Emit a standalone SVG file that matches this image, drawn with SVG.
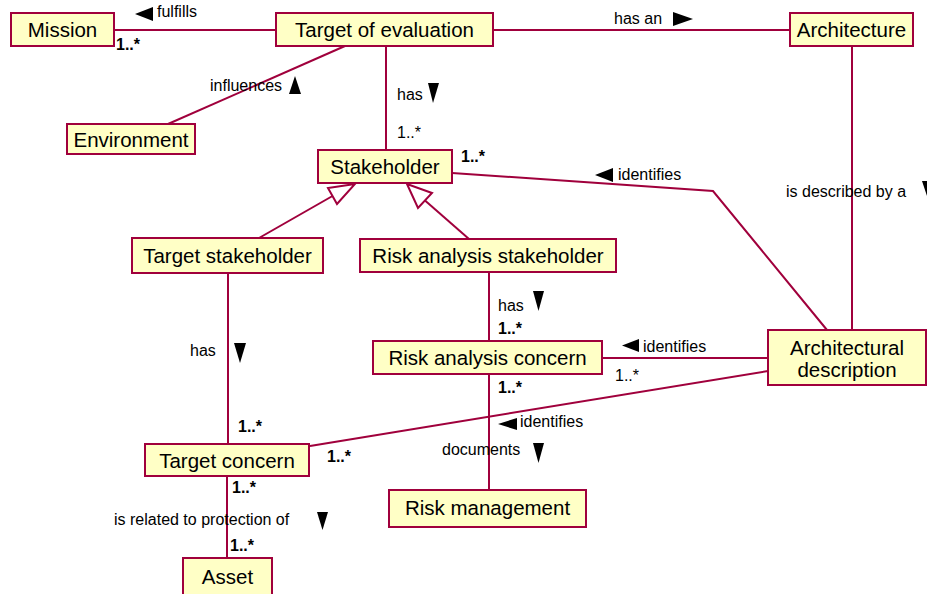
<svg xmlns="http://www.w3.org/2000/svg" width="927" height="594" viewBox="0 0 927 594">
<style>
.box{fill:#ffffc6;stroke:#a0003c;stroke-width:2}
.bl{font-family:"Liberation Sans",Arial,sans-serif;font-size:20.5px;fill:#000;text-anchor:middle}
.ln{fill:none;stroke:#a0003c;stroke-width:2}
.lb{font-family:"Liberation Sans",Arial,sans-serif;font-size:16px;fill:#000}
.m{font-family:"Liberation Sans",Arial,sans-serif;font-size:16px;fill:#000}
.mb{font-family:"Liberation Sans",Arial,sans-serif;font-size:16px;fill:#000;font-weight:bold}
.ar{fill:#000}
.gen{fill:#fff;stroke:#a0003c;stroke-width:2}
</style>
<rect width="927" height="594" fill="#fff"/>
<g id="connectors">
<line class="ln" x1="114" y1="30" x2="276" y2="30"/>
<line class="ln" x1="493" y1="30" x2="790" y2="30"/>
<line class="ln" x1="345" y1="46" x2="168" y2="124"/>
<line class="ln" x1="386" y1="46" x2="386" y2="150"/>
<polyline class="ln" points="452,173 713,191 827,330"/>
<line class="ln" x1="852" y1="47" x2="852" y2="330"/>
<line class="ln" x1="259" y1="238" x2="332.5" y2="196"/>
<polygon class="gen" points="355,184 328,188 337,204"/>
<line class="ln" x1="469" y1="239" x2="425" y2="200.5"/>
<polygon class="gen" points="407,184 418,208 432,193"/>
<line class="ln" x1="228" y1="273" x2="228" y2="444"/>
<line class="ln" x1="489" y1="272" x2="489" y2="341"/>
<line class="ln" x1="489" y1="374" x2="489" y2="490"/>
<line class="ln" x1="602" y1="358" x2="768" y2="358"/>
<line class="ln" x1="310" y1="446" x2="768" y2="371"/>
<line class="ln" x1="227" y1="476" x2="227" y2="558"/>
<polygon class="ar" points="135,14 153,7 153,21"/>
<text class="lb" x="157" y="17">fulfills</text>
<text class="mb" x="116" y="50">1..*</text>
<text class="lb" x="210" y="91">influences</text>
<polygon class="ar" points="295,76 289,94 301,94"/>
<text class="lb" x="397" y="100">has</text>
<polygon class="ar" points="428,83 439,83 433,103"/>
<text class="m" x="397" y="138">1..*</text>
<text class="mb" x="461" y="162">1..*</text>
<text class="lb" x="614" y="24">has an</text>
<polygon class="ar" points="673,12 693,19 673,26"/>
<polygon class="ar" points="595,175 613,168 613,182"/>
<text class="lb" x="618" y="180">identifies</text>
<text class="lb" x="786" y="197">is described by a</text>
<polygon class="ar" points="922,181 934,181 928,199"/>
<text class="lb" x="498" y="311">has</text>
<polygon class="ar" points="533,291 544,291 538.5,311"/>
<text class="mb" x="498" y="334">1..*</text>
<polygon class="ar" points="622,345.5 639,339 639,352"/>
<text class="lb" x="643" y="352">identifies</text>
<text class="m" x="615" y="381">1..*</text>
<text class="mb" x="498" y="393">1..*</text>
<polygon class="ar" points="498,424 517,418 517,430"/>
<text class="lb" x="520" y="427">identifies</text>
<text class="lb" x="442" y="455">documents</text>
<polygon class="ar" points="533,443 544,443 538.5,463"/>
<text class="lb" x="190" y="356">has</text>
<polygon class="ar" points="234,343 246,343 240,363"/>
<text class="mb" x="238" y="432">1..*</text>
<text class="mb" x="327" y="462">1..*</text>
<text class="mb" x="232" y="493">1..*</text>
<text class="lb" x="114" y="525">is related to protection of</text>
<polygon class="ar" points="317,512 328,512 322.5,530"/>
<text class="mb" x="230" y="551">1..*</text>
</g>
<g id="mission"><rect class="box" x="11" y="13" width="103" height="33"/><text class="bl" x="62.5" y="37">Mission</text></g>
<g id="target-of-evaluation"><rect class="box" x="276" y="13" width="217" height="33"/><text class="bl" x="384.5" y="37">Target of evaluation</text></g>
<g id="architecture"><rect class="box" x="790" y="13" width="123" height="33"/><text class="bl" x="851.5" y="37">Architecture</text></g>
<g id="environment"><rect class="box" x="67" y="124" width="128" height="30"/><text class="bl" x="131" y="147">Environment</text></g>
<g id="stakeholder"><rect class="box" x="318" y="150" width="134" height="33"/><text class="bl" x="385" y="174">Stakeholder</text></g>
<g id="target-stakeholder"><rect class="box" x="132" y="238" width="191" height="35"/><text class="bl" x="227.5" y="263">Target stakeholder</text></g>
<g id="risk-analysis-stakeholder"><rect class="box" x="360" y="239" width="256" height="33"/><text class="bl" x="488" y="263">Risk analysis stakeholder</text></g>
<g id="risk-analysis-concern"><rect class="box" x="373" y="341" width="229" height="33"/><text class="bl" x="487.5" y="365">Risk analysis concern</text></g>
<g id="architectural-description"><rect class="box" x="768" y="330" width="158" height="55"/><text class="bl" x="847" y="355">Architectural</text><text class="bl" x="847" y="377">description</text></g>
<g id="target-concern"><rect class="box" x="145" y="444" width="164" height="32"/><text class="bl" x="227" y="468">Target concern</text></g>
<g id="risk-management"><rect class="box" x="389" y="490" width="197" height="37"/><text class="bl" x="487.5" y="515">Risk management</text></g>
<g id="asset"><rect class="box" x="183" y="558" width="89" height="40"/><text class="bl" x="227.5" y="584">Asset</text></g>
</svg>
